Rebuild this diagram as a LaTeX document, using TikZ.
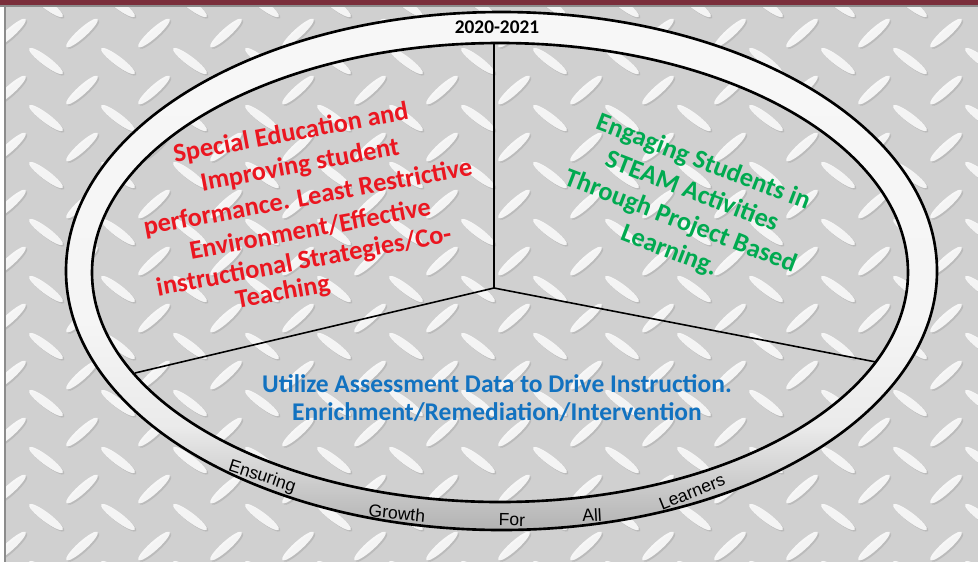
\documentclass[tikz,border=0pt]{standalone}
\usepackage{fontspec}
\setmainfont{Carlito}
\newfontfamily\ringfont{Liberation Sans}
\usepackage{tikz}
\usetikzlibrary{shapes}
\definecolor{barred}{RGB}{122,46,59}
\definecolor{plate}{RGB}{208,208,208}
\definecolor{leafshade}{RGB}{140,140,140}
\definecolor{goalred}{RGB}{235,22,32}
\definecolor{goalgreen}{RGB}{0,170,80}
\definecolor{goalblue}{RGB}{18,114,192}
\pgfdeclareverticalshading{ringgrad}{100bp}{color(0bp)=(black!30); color(25bp)=(black!30); color(30bp)=(black!19); color(35bp)=(black!8); color(45bp)=(black!4); color(75bp)=(black!3); color(100bp)=(black!3)}
\tikzset{ring/.style={line width=1.5pt}, spoke/.style={line width=0.9pt},
  goal/.style={font=\bfseries\fontsize{15}{16.5}\selectfont, align=center, inner sep=0pt},
  redline/.style={goal, text=goalred, rotate=10.5},
  ringtext/.style={font=\ringfont\fontsize{10}{12}\selectfont, inner sep=0pt},
  leaf/.style={fill=white, opacity=.85}, leafshadow/.style={fill=leafshade, opacity=.3}}
\def\spoke#1{\draw[spoke] (hub) -- (#1);}
\newcommand{\rword}[4][]{\node[ringtext,#1] (#2) at (#3) {#4};}
\newcommand{\gline}[3]{\node[redline] (#1) at (#2) {#3};}

\begin{document}
\begin{tikzpicture}[x=0.02cm,y=-0.02cm]
    \useasboundingbox (0,0) rectangle (978,562);
    % plate
    \fill[white] (0,0) rectangle (978,562);
    \fill[plate] (6,7) rectangle (978,562);
    \begin{scope}
    \clip (6,7) rectangle (978,562);
    \foreach \i in {-1,...,13}
      \foreach \j in {-1,...,9} {
        \fill[leafshadow, shift={(83.5+72*\i,34.5+57*\j)}, rotate=42] (0,0) ellipse [x radius=21, y radius=4.5];
        \fill[leaf, shift={(82+72*\i,33+57*\j)}, rotate=42] (0,0) ellipse [x radius=21, y radius=4.5];
        \fill[leafshadow, shift={(47.5+72*\i,62.5+57*\j)}, rotate=-37] (0,0) ellipse [x radius=21, y radius=4.5];
        \fill[leaf, shift={(46+72*\i,61+57*\j)}, rotate=-37] (0,0) ellipse [x radius=21, y radius=4.5];
      }
    \end{scope}
    \fill[barred] (0,0) rectangle (978,5);
    \fill[black!45] (0,5) rectangle (978,7);
    \fill[black!45] (4,5) rectangle (6,562);

    % ring
    \shade[shading=ringgrad, even odd rule] (501.5,271) ellipse [x radius=435.5, y radius=259]
        (500,272.5) ellipse [x radius=408, y radius=229.5];
    \draw[ring] (501.5,271) ellipse [x radius=435.5, y radius=259];
    \draw[ring] (500,272.5) ellipse [x radius=408, y radius=229.5];

    \coordinate (hub) at (494,288);
    \coordinate (north) at (494,43.5);
    \coordinate (southwest) at (135,373);
    \coordinate (southeast) at (876,362);
    \spoke{north} \spoke{southwest} \spoke{southeast}

    \node[font=\bfseries\fontsize{11}{13}\selectfont, inner sep=0pt] (year) at (497,27) {2020-2021};

    \gline{sped1}{291,134}{Special Education and}
    \gline{sped2}{300,166}{Improving student}
    \gline{sped3}{308,198}{performance. Least Restrictive}
    \gline{sped4}{310,229}{Environment/Effective}
    \gline{sped5}{304,262}{instructional Strategies/Co-}
    \gline{sped6}{283,293}{Teaching}
    \node[goal, text=goalgreen, rotate=-21, font=\bfseries\fontsize{15}{18}\selectfont] (steam) at (686,207) {Engaging Students in\\STEAM Activities\\Through Project Based\\Learning.};
    \node[goal, text=goalblue, font=\bfseries\fontsize{14.5}{15.5}\selectfont] (data) at (497,398) {Utilize Assessment Data to Drive Instruction.\\Enrichment/Remediation/Intervention};

    \rword[rotate=-18]{ensuring}{262,477}{Ensuring}
    \rword[rotate=-5.5]{growth}{397,513}{Growth}
    \rword[rotate=-1]{for}{512,520}{For}
    \rword[rotate=3]{all}{592,515}{All}
    \rword[rotate=22]{learners}{692,492}{Learners}
\end{tikzpicture}
\end{document}
